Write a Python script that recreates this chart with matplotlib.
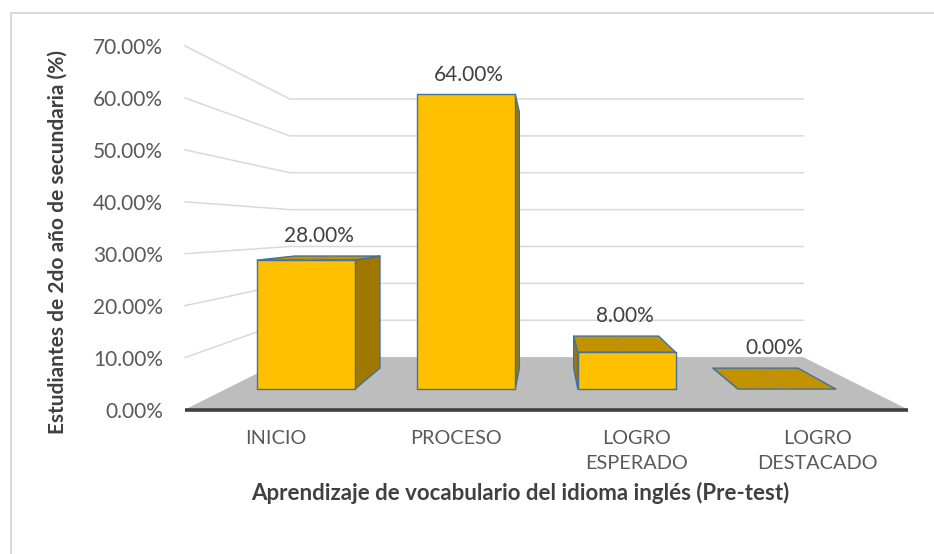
import matplotlib
matplotlib.use("Agg")
import matplotlib.pyplot as plt
from matplotlib.patches import Polygon, Rectangle

# datos
categorias = ["INICIO", "PROCESO", "LOGRO\nESPERADO", "LOGRO\nDESTACADO"]
porcentajes = [28.0, 64.0, 8.0, 0.0]
ticks_y = [0, 10, 20, 30, 40, 50, 60, 70]

plt.rcParams['font.family'] = ['Lato', 'DejaVu Sans']

# perspectiva tipo Excel 3D (escala s = 1 en el borde frontal del piso)
VX, VY = 1.5, 34.8          # punto de fuga en coordenadas de datos
S_FONDO = 0.71              # pared del fondo
S_FRENTE_BARRA = 0.887
S_ATRAS_BARRA = 0.771
MEDIO_ANCHO = 0.305

def proy(x, y, s):
    return (VX + s * (x - VX), VY + s * (y - VY))

W, H = 934, 554
fig = plt.figure(figsize=(W / 100, H / 100), dpi=100)
ax = fig.add_axes([185 / W, (H - 409.5) / H, 723 / W, 363.5 / H])
x_min, x_max = -0.5, len(categorias) - 0.5
ax.set_xlim(x_min, x_max)
ax.set_ylim(0, 70)
for sp in ax.spines.values():
    sp.set_visible(False)

# piso
piso = [proy(x_min, 0, 1), proy(x_max, 0, 1), proy(x_max, 0, S_FONDO), proy(x_min, 0, S_FONDO)]
ax.add_patch(Polygon(piso, closed=True, fc="#BDBDBD", ec="none", zorder=1))

# lineas de cuadricula (pared izquierda + pared del fondo)
for t in ticks_y[1:]:
    pts = [proy(x_min, t, 1), proy(x_min, t, S_FONDO), proy(x_max, t, S_FONDO)]
    ax.plot([p[0] for p in pts], [p[1] for p in pts], color="#D9D9D9", lw=1.1,
            zorder=0.5, clip_on=False)

ax.plot([x_min, x_max], [0, 0], color="#404040", lw=2.6, zorder=2,
        solid_capstyle="butt", clip_on=False)

# barras
borde = "#41719C"
for i, v in enumerate(porcentajes):
    x0, x1 = i - MEDIO_ANCHO, i + MEDIO_ANCHO
    sf, sb = S_FRENTE_BARRA, S_ATRAS_BARRA
    caras = []
    if x1 < VX:
        caras.append(([proy(x1, 0, sf), proy(x1, 0, sb), proy(x1, v, sb), proy(x1, v, sf)], "#A07800"))
    if x0 > VX:
        caras.append(([proy(x0, 0, sf), proy(x0, 0, sb), proy(x0, v, sb), proy(x0, v, sf)], "#A07800"))
    if v < VY:
        caras.append(([proy(x0, v, sf), proy(x1, v, sf), proy(x1, v, sb), proy(x0, v, sb)], "#C39200"))
    if v > 0:
        caras.append(([proy(x0, 0, sf), proy(x1, 0, sf), proy(x1, v, sf), proy(x0, v, sf)], "#FFC000"))
    todos = []
    for pts, c in caras:
        ax.add_patch(Polygon(pts, closed=True, fc=c, ec=borde, lw=1.0, zorder=3,
                             joinstyle="round", clip_on=False))
        todos += pts
    if v < VY:
        # linea tenue en la cara superior (como en el original)
        a = proy(i, v, sf)
        b = proy(i, v, sb)
        ax.plot([a[0], b[0]], [a[1], b[1]], color="#9A8A60", lw=0.8, alpha=0.6,
                zorder=3.5, clip_on=False)
    xs = [p[0] for p in todos]
    ys = [p[1] for p in todos]
    ax.annotate(f"{v:.2f}%", xy=((min(xs) + max(xs)) / 2, max(ys)),
                xytext=(0, 7), textcoords="offset points", ha="center", va="bottom",
                fontsize=15, color="#404040", zorder=5)

# ejes
ax.set_yticks(ticks_y)
ax.set_yticklabels([f"{t:.2f}%" for t in ticks_y])
ax.set_xticks(range(len(categorias)))
ax.set_xticklabels(categorias, linespacing=1.55)
ax.tick_params(axis="y", length=0, pad=16, labelsize=15, labelcolor="#595959")
ax.tick_params(axis="x", length=0, pad=15, labelsize=14.3, labelcolor="#595959")

ax.set_xlabel("Aprendizaje de vocabulario del idioma inglés (Pre-test)",
              fontsize=16, fontweight="bold", color="#404040")
ax.xaxis.set_label_coords((520 - 185) / 723, (409.5 - 482) / 363.5)
ax.set_ylabel("Estudiantes de 2do año de secundaria (%)",
              fontsize=15, fontweight="bold", color="#404040")
ax.yaxis.set_label_coords((68 - 185) / 723, (409.5 - 242) / 363.5)

# marco del grafico
fig.add_artist(Rectangle((11 / W, -0.1), 1.2, (H - 13) / H + 0.1, transform=fig.transFigure,
                         fill=False, ec="#D9D9D9", lw=1.5))

fig.savefig("out.png", dpi=100, facecolor="white")
